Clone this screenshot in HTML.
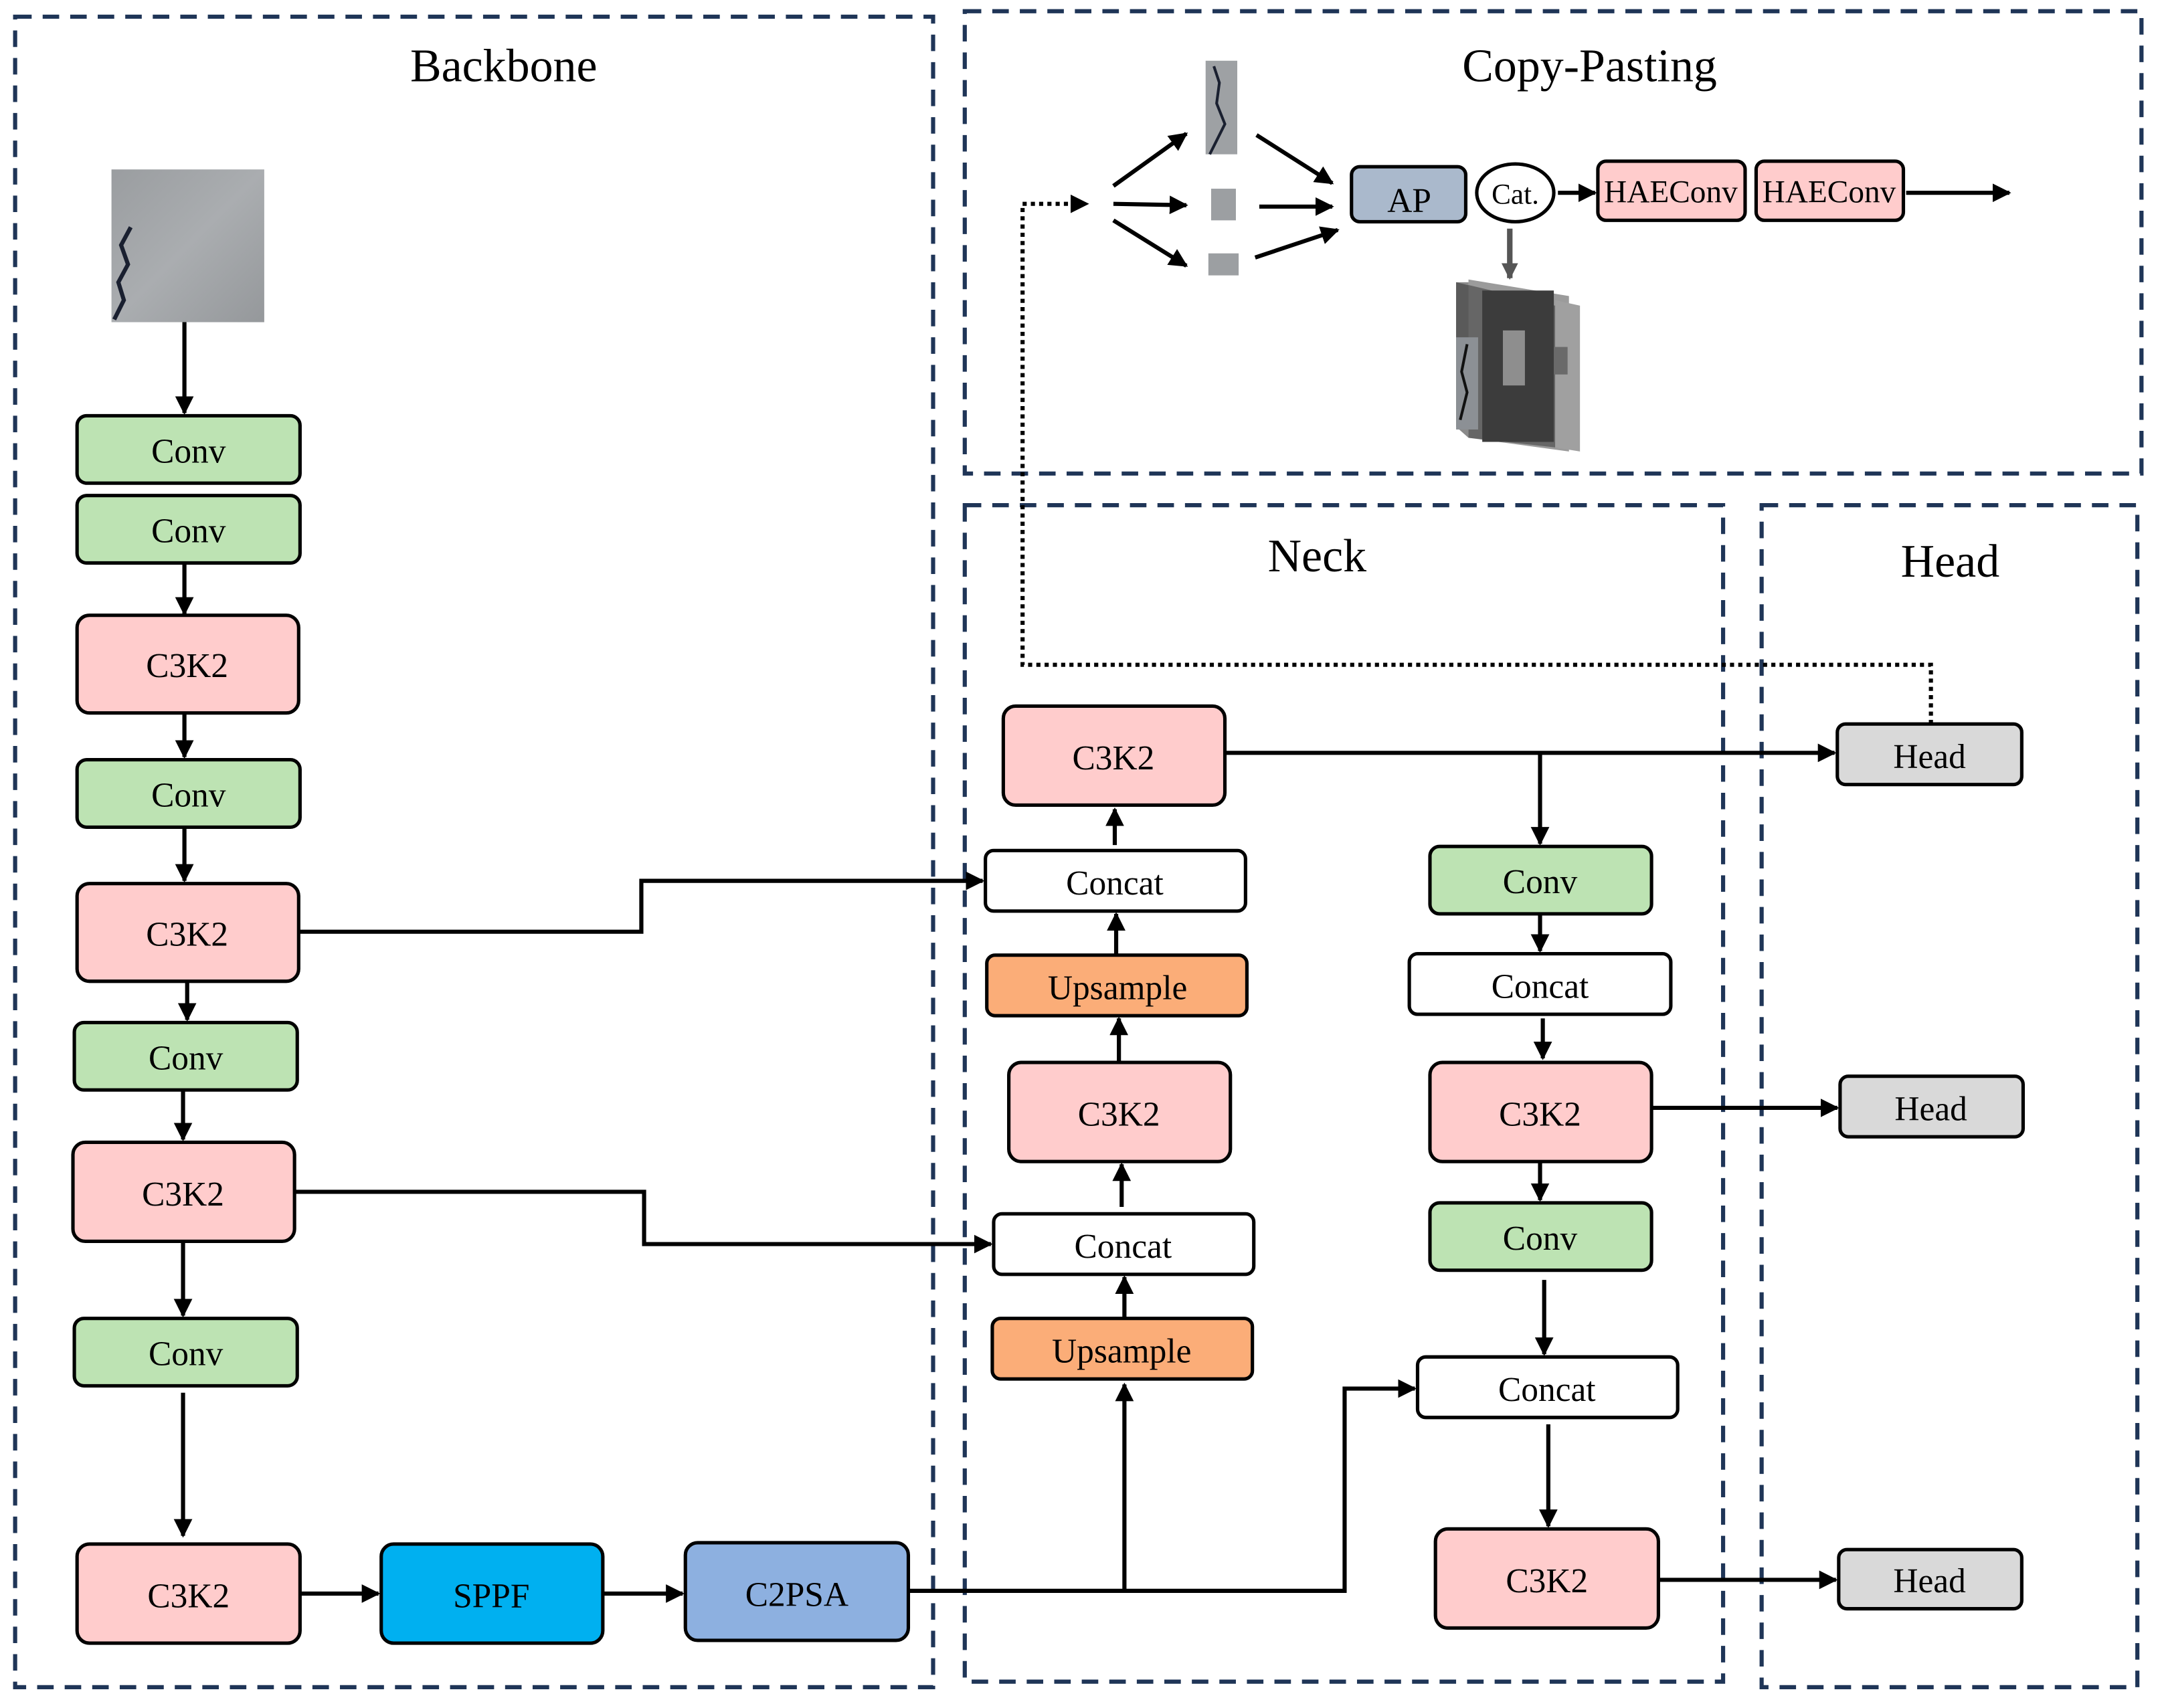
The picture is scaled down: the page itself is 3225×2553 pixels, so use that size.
<!DOCTYPE html>
<html><head><meta charset="utf-8"><style>html,body{margin:0;padding:0;background:#fff}svg{display:block}svg text{font-family:"Liberation Serif","Times New Roman",serif}</style></head><body>
<svg width="3225" height="2553" viewBox="0 0 1568 1241" xmlns="http://www.w3.org/2000/svg">
<defs>
<marker id="a" viewBox="0 0 10 10" refX="9" refY="5" markerWidth="4.5" markerHeight="4.5" orient="auto" markerUnits="strokeWidth"><path d="M0,0L10,5L0,10z" fill="#000"/></marker>
<marker id="g" viewBox="0 0 10 10" refX="9" refY="5" markerWidth="3" markerHeight="3" orient="auto" markerUnits="strokeWidth"><path d="M0,0L10,5L0,10z" fill="#555"/></marker>
<linearGradient id="tex" x1="0" y1="0" x2="1" y2="1"><stop offset="0" stop-color="#9a9da0"/><stop offset="0.5" stop-color="#aaadb0"/><stop offset="1" stop-color="#95989b"/></linearGradient>
</defs>
<g fill="none" stroke="#1f3557" stroke-width="3" stroke-dasharray="12,8">
<rect x="11" y="12" width="667" height="1214"/>
<rect x="701" y="8" width="855" height="336"/>
<rect x="701" y="367" width="551" height="855"/>
<rect x="1280" y="367" width="273" height="859"/>
</g>
<g font-size="34" text-anchor="middle" fill="#000">
<text x="366" y="59">Backbone</text>
<text x="1155" y="59">Copy-Pasting</text>
<text x="957" y="415">Neck</text>
<text x="1417" y="419">Head</text>
</g>
<rect x="81" y="123" width="111" height="111" fill="url(#tex)"/>
<path d="M95,165 L88,178 L93,192 L86,205 L90,218 L83,232" stroke="#1a2030" stroke-width="3" fill="none"/>
<g stroke="#000" stroke-width="2.5">
<rect x="56" y="302" width="162" height="49" rx="7" fill="#bde3b3"/>
<rect x="56" y="360" width="162" height="49" rx="7" fill="#bde3b3"/>
<rect x="56" y="447" width="161" height="71" rx="9" fill="#ffcccc"/>
<rect x="56" y="552" width="162" height="49" rx="7" fill="#bde3b3"/>
<rect x="56" y="642" width="161" height="71" rx="9" fill="#ffcccc"/>
<rect x="54" y="743" width="162" height="49" rx="7" fill="#bde3b3"/>
<rect x="53" y="830" width="161" height="72" rx="9" fill="#ffcccc"/>
<rect x="54" y="958" width="162" height="49" rx="7" fill="#bde3b3"/>
<rect x="56" y="1122" width="162" height="72" rx="9" fill="#ffcccc"/>
<rect x="277" y="1122" width="161" height="72" rx="9" fill="#00b0f0"/>
<rect x="498" y="1121" width="162" height="71" rx="9" fill="#8db0e0"/>
<rect x="729" y="513" width="161" height="72" rx="9" fill="#ffcccc"/>
<rect x="716" y="618" width="189" height="44" rx="6" fill="#fff"/>
<rect x="717" y="694" width="189" height="44" rx="6" fill="#fbad78"/>
<rect x="733" y="772" width="161" height="72" rx="9" fill="#ffcccc"/>
<rect x="722" y="882" width="189" height="44" rx="6" fill="#fff"/>
<rect x="721" y="958" width="189" height="44" rx="6" fill="#fbad78"/>
<rect x="1039" y="615" width="161" height="49" rx="7" fill="#bde3b3"/>
<rect x="1024" y="693" width="190" height="44" rx="6" fill="#fff"/>
<rect x="1039" y="772" width="161" height="72" rx="9" fill="#ffcccc"/>
<rect x="1039" y="874" width="161" height="49" rx="7" fill="#bde3b3"/>
<rect x="1030" y="986" width="189" height="44" rx="6" fill="#fff"/>
<rect x="1043" y="1111" width="162" height="72" rx="9" fill="#ffcccc"/>
<rect x="1335" y="526" width="134" height="44" rx="6" fill="#d9d9d9"/>
<rect x="1337" y="782" width="133" height="44" rx="6" fill="#d9d9d9"/>
<rect x="1336" y="1126" width="133" height="43" rx="6" fill="#d9d9d9"/>
<rect x="982" y="121" width="83" height="40" rx="6" fill="#aab9cc"/>
<ellipse cx="1101" cy="140" rx="28" ry="21" fill="#fff"/>
<rect x="1161" y="117" width="107" height="43" rx="6" fill="#ffcccc"/>
<rect x="1276" y="117" width="107" height="43" rx="6" fill="#ffcccc"/>
</g>
<g font-size="25" text-anchor="middle" fill="#000">
<text x="137" y="336">Conv</text>
<text x="137" y="394">Conv</text>
<text x="136" y="492">C3K2</text>
<text x="137" y="586">Conv</text>
<text x="136" y="687">C3K2</text>
<text x="135" y="777">Conv</text>
<text x="133" y="876">C3K2</text>
<text x="135" y="992">Conv</text>
<text x="137" y="1168">C3K2</text>
<text x="357" y="1168">SPPF</text>
<text x="579" y="1167">C2PSA</text>
<text x="809" y="559">C3K2</text>
<text x="810" y="650">Concat</text>
<text x="812" y="726">Upsample</text>
<text x="813" y="818">C3K2</text>
<text x="816" y="914">Concat</text>
<text x="815" y="990">Upsample</text>
<text x="1119" y="649">Conv</text>
<text x="1119" y="725">Concat</text>
<text x="1119" y="818">C3K2</text>
<text x="1119" y="908">Conv</text>
<text x="1124" y="1018">Concat</text>
<text x="1124" y="1157">C3K2</text>
<text x="1402" y="558">Head</text>
<text x="1403" y="814">Head</text>
<text x="1402" y="1157">Head</text>
<text x="1024" y="154">AP</text>
<text x="1101" y="148" font-size="21">Cat.</text>
<text x="1214" y="147" font-size="23">HAEConv</text>
<text x="1329" y="147" font-size="23">HAEConv</text>
</g>
<g stroke="#000" stroke-width="3" fill="none" marker-end="url(#a)">
<path d="M134,234V300"/>
<path d="M134,409V446"/>
<path d="M134,518V550"/>
<path d="M134,601V640"/>
<path d="M136,713V741"/>
<path d="M133,792V828"/>
<path d="M133,902V956"/>
<path d="M133,1012V1116"/>
<path d="M218,1158H275"/>
<path d="M438,1158H496"/>
<path d="M660,1156H977V1009H1028"/>
<path d="M817,1156V1006"/>
<path d="M817,958V928"/>
<path d="M815,877V846"/>
<path d="M813,772V740"/>
<path d="M811,694V664"/>
<path d="M810,614V588"/>
<path d="M217,677H466V640H714"/>
<path d="M214,866H468V904H720"/>
<path d="M890,547H1333"/>
<path d="M1119,547V613"/>
<path d="M1119,664V691"/>
<path d="M1121,740V769"/>
<path d="M1200,805H1335"/>
<path d="M1119,844V872"/>
<path d="M1122,930V984"/>
<path d="M1125,1035V1109"/>
<path d="M1205,1148H1334"/>
<path d="M809,135L862,97"/>
<path d="M809,148L862,149"/>
<path d="M809,160L862,193"/>
<path d="M913,98L968,133"/>
<path d="M915,150L968,150"/>
<path d="M912,187L972,167"/>
<path d="M1132,140H1159"/>
<path d="M1385,140H1460"/>
</g>
<path d="M1403,526V483H743V148H790" stroke="#000" stroke-width="3" fill="none" stroke-dasharray="3,3" marker-end="url(#a)"/>
<path d="M1097,166V202" stroke="#555" stroke-width="4" fill="none" marker-end="url(#g)"/>
<rect x="876" y="44" width="23" height="68" fill="#9ea1a4"/>
<path d="M882,48L886,60L884,75L890,90L883,104L879,112" stroke="#1a2030" stroke-width="2" fill="none"/>
<rect x="880" y="137" width="18" height="23" fill="#9c9fa2"/>
<rect x="878" y="184" width="22" height="16" fill="#9c9fa2"/>
<polygon points="1058,205 1067,205 1067,318 1058,310" fill="#8a8a8a"/>
<polygon points="1067,203 1140,215 1140,328 1067,318" fill="#9b9b9b"/>
<polygon points="1058,205 1120,220 1120,322 1058,310" fill="#5a5a5a"/>
<polygon points="1067,207 1130,222 1130,325 1067,318" fill="#666"/>
<polygon points="1130,218 1148,222 1148,328 1130,325" fill="#a0a0a0"/>
<rect x="1077" y="211" width="52" height="110" fill="#3c3c3c"/>
<rect x="1092" y="240" width="16" height="40" fill="#8e8e8e"/>
<rect x="1058" y="245" width="16" height="67" fill="#8c9095"/>
<path d="M1066,250L1062,270L1066,285L1061,305" stroke="#111" stroke-width="2" fill="none"/>
<rect x="1129" y="252" width="10" height="20" fill="#6a6a6a"/>
</svg>
</body></html>
